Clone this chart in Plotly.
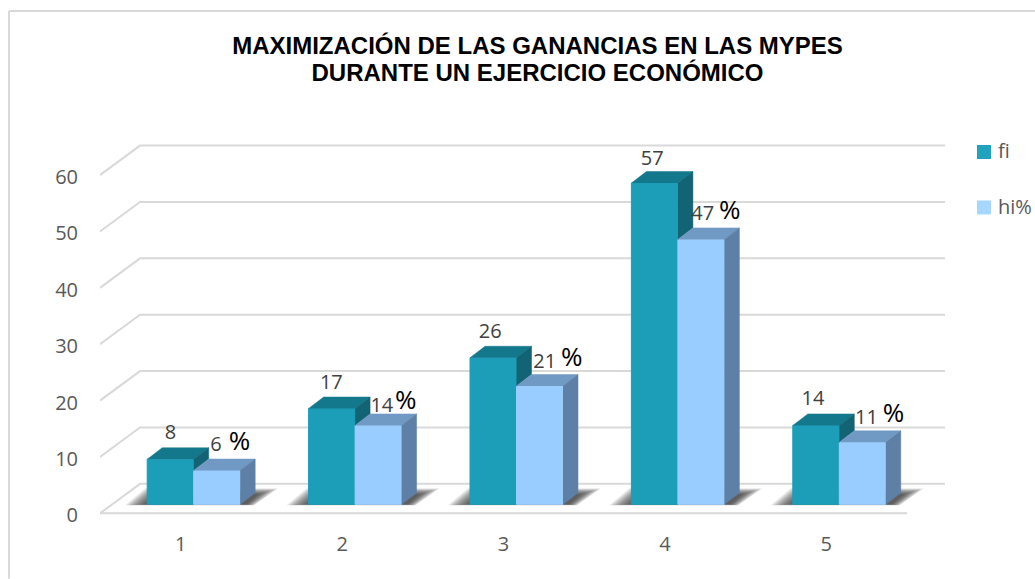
import plotly.graph_objects as go

# ---- data ----
categories = [1, 2, 3, 4, 5]
series_names = ["fi", "hi%"]
fi_values = [8, 17, 26, 57, 14]
hi_values = [6, 14, 21, 47, 11]
y_ticks = [0, 10, 20, 30, 40, 50, 60]
title_lines = ["MAXIMIZACIÓN DE LAS GANANCIAS EN LAS MYPES", "DURANTE UN EJERCICIO ECONÓMICO"]

# ---- style / geometry ----
W, H = 1035, 579
PX_X, PX_Y = 161.4, 5.64          # pixels per category / per value unit
L, R, T = 100, 945, 130
X0, X1 = 0.5, 0.5 + (R - L) / PX_X
Y0, Y1 = -1, 68
B = T + (Y1 - Y0) * PX_Y
px = lambda d: d / PX_X           # horizontal pixels -> x units
py = lambda d: d / PX_Y           # vertical pixels -> y units
BAR_W = px(46.5)
SHIFT_X, SHIFT_Y = px(13), py(9)   # bars stand inside the floor
BAR_DX, BAR_DY = px(15), py(11.5)    # depth of a bar
FLOOR_DX, FLOOR_DY = px(40), py(29.5)  # depth of the floor
C_FI = ("#1C9DB8", "#14788C", "#126373")
C_HI = ("#99CCFF", "#7099C4", "#5F80A6")
LEGEND_COLORS = ["#21A3BF", "#A6D8FF"]
GRID = "#D9D9D9"
TXT = "#595959"
FONT = "Open Sans"
# hand placement of the data labels, in pixels (label by label, as in the reference)
FI_NUDGE_X = [0, -0.5, -3, -2.5, -3]
FI_NUDGE_Y = [0, 0, 0, -2, 0]
HI_NUDGE_X = [-1, 3.5, 5, 1.5, 4]
HI_NUDGE_Y = [0, -7, -2, -1, -2]
PCT_NUDGE_X = [22.5, 27.5, 32, 28.5, 31]
PCT_NUDGE_Y = [2, -2, 1, 2, 2]

pxp = lambda p: (p - L) / (R - L)
pyp = lambda p: (B - p) / (B - T)

shapes = []
# chart frame (top and left only)
frame = dict(type="line", xref="paper", yref="paper", layer="below", line=dict(color=GRID, width=2))
shapes.append(dict(frame, x0=pxp(9), x1=pxp(9), y0=pyp(11), y1=pyp(579)))
shapes.append(dict(frame, x0=pxp(9), x1=pxp(1035), y0=pyp(11), y1=pyp(11)))

# gridlines: front edge, depth diagonal, back wall
for v in y_ticks:
    path = f"M{X0},{v} L{X0 + FLOOR_DX},{v + FLOOR_DY} L{X1},{v + FLOOR_DY}"
    shapes.append(dict(type="path", path=path, xref="x", yref="y", layer="below",
                       line=dict(color=GRID, width=2)))
shapes.append(dict(type="line", xref="x", yref="y", layer="below", x0=X0, x1=5.5, y0=0, y1=0,
                   line=dict(color=GRID, width=2)))

# soft floor shadows (layered translucent polygons)
outer = (-22, -1, -2, 16, 38, 16, 14, -1)
inner = (-2, 0, 10, 10, 18, 10, 6, 0)
LAYERS = 12
for c in categories:
    left = c + SHIFT_X - BAR_W
    right = c + SHIFT_X + BAR_W
    for k in range(LAYERS):
        t = k / (LAYERS - 1)
        o = [a + (b - a) * t for a, b in zip(outer, inner)]
        path = (f"M{left + px(o[0])},{SHIFT_Y + py(o[1])} L{left + px(o[2])},{SHIFT_Y + py(o[3])} "
                f"L{right + px(o[4])},{SHIFT_Y + py(o[5])} L{right + px(o[6])},{SHIFT_Y + py(o[7])} Z")
        shapes.append(dict(type="path", path=path, xref="x", yref="y", layer="below",
                           fillcolor="rgba(40,40,40,0.10)", line=dict(width=0)))

# legend swatches and labels
annotations = []
for name, col, top in zip(series_names, LEGEND_COLORS, (145, 200.5)):
    shapes.append(dict(type="rect", xref="paper", yref="paper", x0=pxp(977), x1=pxp(991),
                       y0=pyp(top), y1=pyp(top + 14), fillcolor=col, line=dict(width=0)))
    annotations.append(dict(text=name, xref="paper", yref="paper", x=pxp(997), y=pyp(top + 6),
                            xanchor="left", yanchor="middle", showarrow=False, borderpad=0,
                            font=dict(family=FONT, size=20, color=TXT)))

fig = go.Figure()


def front(name, values, offset, colors):
    fig.add_trace(go.Bar(
        x=[c + SHIFT_X for c in categories], y=values, base=SHIFT_Y, name=name,
        width=BAR_W, offset=offset, cliponaxis=False, hoverinfo="skip", showlegend=False,
        marker=dict(color=colors[0], line=dict(color=colors[0], width=1))))


def depth(values, offset, colors, side_floor):
    top_x, top_y, side_x, side_y = [], [], [], []
    for c, v, f in zip(categories, values, side_floor):
        a = c + SHIFT_X + offset
        b = a + BAR_W
        y = SHIFT_Y + v
        g = SHIFT_Y + f
        top_x += [a, a + BAR_DX, b + BAR_DX, b, None]
        top_y += [y, y + BAR_DY, y + BAR_DY, y, None]
        side_x += [b, b + BAR_DX, b + BAR_DX, b, None]
        side_y += [y, y + BAR_DY, g + BAR_DY, g, None]
    for xs, ys, col in ((top_x, top_y, colors[1]), (side_x, side_y, colors[2])):
        fig.add_trace(go.Scatter(x=xs, y=ys, mode="lines", fill="toself", fillcolor=col,
                                 line=dict(width=0.5, color=col), showlegend=False,
                                 hoverinfo="skip", cliponaxis=False))


front(series_names[0], fi_values, -BAR_W, C_FI)
front(series_names[1], hi_values, 0, C_HI)
# the dark side of fi only shows above the neighbouring hi% bar
depth(fi_values, -BAR_W, C_FI, hi_values)
depth(hi_values, 0, C_HI, [0] * len(hi_values))

# data labels
LABEL_UP = py(25) + SHIFT_Y


def labels(xs, ys, texts, size, color):
    fig.add_trace(go.Scatter(x=xs, y=ys, text=texts, mode="text", textposition="middle center",
                             textfont=dict(family=FONT, size=size, color=color), showlegend=False,
                             hoverinfo="skip", cliponaxis=False))


labels([c + SHIFT_X - BAR_W / 2 + px(n) for c, n in zip(categories, FI_NUDGE_X)],
       [v + LABEL_UP + py(n) for v, n in zip(fi_values, FI_NUDGE_Y)],
       [str(v) for v in fi_values], 20, "#404040")
labels([c + SHIFT_X + BAR_W / 2 + px(n) for c, n in zip(categories, HI_NUDGE_X)],
       [v + LABEL_UP + py(n) for v, n in zip(hi_values, HI_NUDGE_Y)],
       [str(v) for v in hi_values], 20, "#404040")
labels([c + SHIFT_X + BAR_W / 2 + px(n) for c, n in zip(categories, PCT_NUDGE_X)],
       [v + LABEL_UP + py(n) for v, n in zip(hi_values, PCT_NUDGE_Y)],
       ["%"] * len(hi_values), 26, "#000000")

title_text = "<br>".join(f'<span style="font-size:24px"><b>{s}</b></span>' for s in title_lines)

fig.update_layout(
    width=W, height=H, autosize=False,
    margin=dict(l=L, r=W - R, t=T, b=H - B, pad=0, autoexpand=False),
    paper_bgcolor="white", plot_bgcolor="rgba(0,0,0,0)",
    barmode="overlay", shapes=shapes, annotations=annotations, showlegend=False,
    title=dict(text=title_text, x=537.5 / W, xanchor="center", xref="container",
               y=1 - 54 / H, yanchor="middle", yref="container",
               font=dict(family="Liberation Sans", size=20.8, color="#000000")),
    xaxis=dict(range=[X0, X1], tickvals=categories, showgrid=False, zeroline=False, showline=False,
               ticks="", ticklabelstandoff=11, tickfont=dict(family=FONT, size=20, color=TXT)),
    yaxis=dict(range=[Y0, Y1], tickvals=y_ticks, showgrid=False, zeroline=False, showline=False,
               ticks="", ticklabelstandoff=21, ticklabelshift=2,
               tickfont=dict(family=FONT, size=20, color=TXT)),
)

fig.write_html("out.html", config=dict(displayModeBar=False),
               post_script="document.body.style.margin='0';document.documentElement.style.overflow='hidden';")
